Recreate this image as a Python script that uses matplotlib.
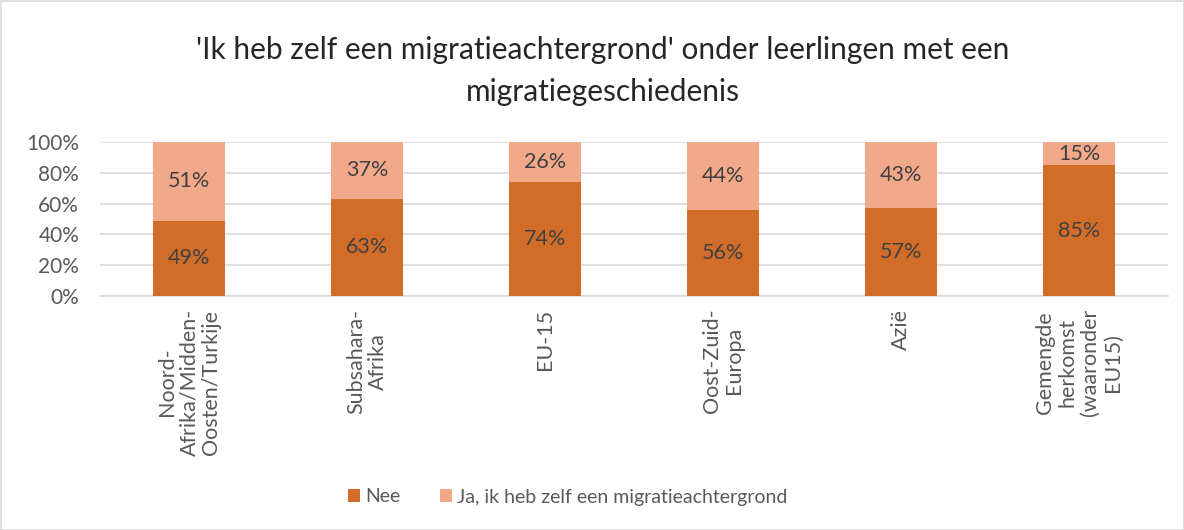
import matplotlib
matplotlib.use("Agg")
import matplotlib.pyplot as plt
from matplotlib.patches import Rectangle

categories = ["Noord-\nAfrika/Midden-\nOosten/Turkije", "Subsahara-\nAfrika", "EU-15",
              "Oost-Zuid-\nEuropa", "Azië", "Gemengde\nherkomst\n(waaronder\nEU15)"]
nee = [49, 63, 74, 56, 57, 85]
ja = [51, 37, 26, 44, 43, 15]
series_names = ["Nee", "Ja, ik heb zelf een migratieachtergrond"]
yticks = [0, 20, 40, 60, 80, 100]
title = "'Ik heb zelf een migratieachtergrond' onder leerlingen met een\nmigratiegeschiedenis"

plt.rcParams['font.family'] = ['Lato', 'DejaVu Sans']
txt = '#595959'
c_nee = '#D26D29'
c_ja = '#F2A98A'

fig = plt.figure(figsize=(11.84, 5.30), dpi=100)
ax = fig.add_axes([100/1184, 1-296/530, 1068/1184, 154/530])

x = list(range(len(categories)))
b1 = ax.bar(x, nee, width=0.4, color=c_nee, label=series_names[0], zorder=3)
b2 = ax.bar(x, ja, width=0.4, bottom=nee, color=c_ja, label=series_names[1], zorder=3)

for i in x:
    ax.text(i, nee[i]/2, f"{nee[i]}%", ha='center', va='center', fontsize=15.5, color='#404040', zorder=4)
    ax.text(i, nee[i] + ja[i]/2, f"{ja[i]}%", ha='center', va='center', fontsize=15.5, color='#404040', zorder=4)

ax.set_xlim(-0.5, len(categories)-0.5)
ax.set_ylim(0, 100)
ax.set_yticks(yticks)
ax.set_yticklabels([f"{v}%" for v in yticks], fontsize=15, color=txt)
ax.set_xticks(x)
ax.set_xticklabels(categories, rotation=90, fontsize=15.5, color=txt, ha='center', va='top',
                   multialignment='center', linespacing=1.15)
ax.tick_params(axis='both', length=0)
ax.tick_params(axis='y', pad=15)
ax.tick_params(axis='x', pad=9)
ax.grid(axis='y', color='#D9D9D9', linewidth=1.2, zorder=0)
for s in ['top', 'right', 'left']:
    ax.spines[s].set_visible(False)
ax.spines['bottom'].set_color('#D9D9D9')
ax.spines['bottom'].set_linewidth(1.2)

fig.text(603/1184, 1-71/530, title, ha='center', va='center', fontsize=21.5, color='#262626',
         linespacing=1.6)

fig.legend(handles=[b1, b2], labels=series_names, loc='center', bbox_to_anchor=(568/1184, 1-497/530),
           ncol=2, frameon=False, fontsize=14, labelcolor=txt, handlelength=0.6, handleheight=0.6,
           columnspacing=2.0, handletextpad=0.3)

fig.patches.append(Rectangle((0.5/1184, 0.5/530), 1-1/1184, 1-1/530, transform=fig.transFigure,
                             fill=False, edgecolor='#D9D9D9', linewidth=1.2))

fig.savefig("out.png", dpi=100, facecolor='white')
